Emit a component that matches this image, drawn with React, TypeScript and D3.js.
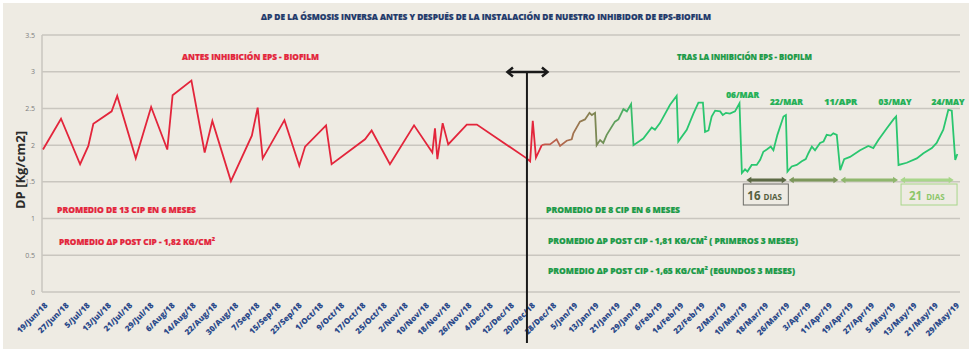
import * as d3 from 'd3';

// days counted from 19/Jun/18
const tickLabels = [
  '19/Jun/18', '27/Jun/18', '5/Jul/18', '13/Jul/18', '21/Jul/18', '29/Jul/18', '6/Aug/18', '14/Aug/18',
  '22/Aug/18', '30/Aug/18', '7/Sep/18', '15/Sep/18', '23/Sep/18', '1/Oct/18', '9/Oct/18', '17/Oct/18',
  '25/Oct/18', '2/Nov/18', '10/Nov/18', '18/Nov/18', '26/Nov/18', '4/Dec/18', '12/Dec/18', '20/Dec/18',
  '28/Dec/18', '5/Jan/19', '13/Jan/19', '21/Jan/19', '29/Jan/19', '6/Feb/19', '14/Feb/19', '22/Feb/19',
  '2/Mar/19', '10/Mar/19', '18/Mar/19', '26/Mar/19', '3/Apr/19', '11/Apr/19', '19/Apr/19', '27/Apr/19',
  '5/May/19', '13/May/19', '21/May/19', '29/May/19',
];
const tickStep = 8;
const yTicks = [0, 0.5, 1, 1.5, 2, 2.5, 3, 3.5];

// before the inhibitor (red)
const antesDays = [
  0, 6.8, 14, 17.1, 19, 25.9, 28, 35, 40.8, 46.9, 48.9, 56, 61, 63.9, 70.9, 78.8, 81, 82.9, 91.1, 96.7,
  98.9, 106.8, 108.9, 121.5, 124, 130.9, 140, 146.9, 147.9, 148.8, 150.8, 152.9, 159.9, 163.7, 182.5,
  183.8, 184.8, 186, 188.2,
];
const antesDp = [
  1.94, 2.36, 1.74, 1.99, 2.29, 2.46, 2.67, 1.82, 2.52, 1.94, 2.68, 2.88, 1.9, 2.33, 1.51, 2.13, 2.51, 1.82, 2.34, 1.72,
  1.98, 2.27, 1.74, 2.08, 2.2, 1.74, 2.27, 1.9, 2.23, 1.81, 2.3, 2.01, 2.28, 2.28, 1.82,
  1.78, 2.33, 1.83, 2.0,
];

// after the inhibitor (green)
const trasDays = [
  188.2, 189.4, 191.3, 193.8, 195.1, 197.6, 199.5, 200.1, 202.6, 204.5, 206.2, 207.1, 208.3, 208.9, 210.2,
  211.4, 212.7, 215.8, 217.1, 219, 220.3, 221.9, 222.8, 226.5, 229.7, 230.9, 232.8, 236.6, 239.1, 239.7,
  242.9, 245.4, 247.3, 249, 249.8, 251.1, 252.3, 253.6, 255.5, 256.5, 257.7, 259.2, 261.1, 262.8, 263.7,
  264.9, 265.8, 267.4, 269.3, 270.6, 271.8, 273.1, 274.6, 275.6, 277.1, 279.4, 280.3, 280.9, 282.5, 284.4,
  286.3, 287.8, 288.8, 290.1, 291.3, 293.2, 294.5, 295.7, 297.2, 298.2, 299.5, 300.8, 302.3, 304.5, 308.3,
  311.4, 313.3, 315.2, 318.4, 320.9, 321.9, 322.8, 325.9, 329.7, 332.2, 335.4, 337.2, 339.7, 341.6, 342.9,
  344.2, 345,
];
const trasDp = [
  2.0, 2.01, 2.01, 2.08, 1.99, 2.06, 2.08, 2.16, 2.32, 2.35, 2.44, 2.41, 2.44, 2.0, 2.07,
  2.03, 2.14, 2.32, 2.35, 2.49, 2.46, 2.56, 2.0, 2.09, 2.24, 2.21, 2.3, 2.55, 2.67, 2.05,
  2.21, 2.43, 2.58, 2.58, 2.18, 2.2, 2.39, 2.47, 2.46, 2.41, 2.44, 2.43, 2.46, 2.57, 1.62,
  1.67, 1.64, 1.73, 1.73, 1.8, 1.91, 1.94, 1.98, 1.93, 2.14, 2.39, 2.41, 1.64, 1.71, 1.73,
  1.78, 1.81, 1.89, 1.98, 1.93, 2.03, 2.05, 2.14, 2.13, 2.16, 2.14, 1.66, 1.81, 1.84, 1.93,
  1.99, 1.96, 2.07, 2.23, 2.35, 2.39, 1.73, 1.76, 1.82, 1.89, 1.96, 2.03, 2.21, 2.48, 2.47,
  1.8, 1.88,
];

const peakDays = [264, 280.5, 301, 321.5, 341.5];
const peakLabels = ['06/MAR', '22/MAR', '11/APR', '03/MAY', '24/MAY'];
const cipDays = [265, 281, 300.5, 323, 344];
const cipColors = ['#5d6a45', '#7c975a', '#8fb76d', '#a8d68a'];
const dividerDay = 182.6;

const W = 972;
const H = 352;
const FONT = "'Open Sans', 'DejaVu Sans', sans-serif";
const RED = '#e3253b';
const GREEN_TXT = '#1b9a47';

const x = d3.scaleLinear().domain([0, 346]).range([43, 960]);
const y = d3.scaleLinear().domain([0, 3.5]).range([292, 35]);

const line = d3.line<[number, number]>().x(d => x(d[0])).y(d => y(d[1]));
const antesPts = antesDays.map((d, i) => [d, antesDp[i]] as [number, number]);
const trasPts = trasDays.map((d, i) => [d, trasDp[i]] as [number, number]);

function Label({ x0, yb, w, size, fill, children, anchor = 'start' }: any) {
  return (
    <text x={x0} y={yb} fontSize={size} fontWeight={800} fill={fill} stroke={fill} strokeWidth={0.2}
      textAnchor={anchor} textLength={w} lengthAdjust="spacingAndGlyphs" fontFamily={FONT}>{children}</text>
  );
}

function Arrow({ x1, x2, yy, color }: any) {
  const h = 3.2;
  return (
    <g>
      <line x1={x1 + 3} x2={x2 - 3} y1={yy} y2={yy} stroke={color} strokeWidth={3} />
      <path d={`M${x1},${yy} L${x1 + 5},${yy - h} L${x1 + 5},${yy + h} Z`} fill={color} />
      <path d={`M${x2},${yy} L${x2 - 5},${yy - h} L${x2 - 5},${yy + h} Z`} fill={color} />
    </g>
  );
}

export default function App() {
  const xd = x(dividerDay);
  const arrowY = 180;
  return (
    <svg width={W} height={H} style={{ position: 'absolute', left: 0, top: 0 }}>
      <defs>
        <linearGradient id="trasGrad" gradientUnits="userSpaceOnUse" x1={x(188)} x2={x(224)} y1={0} y2={0}>
          <stop offset="0" stopColor="#c9544a" />
          <stop offset="0.3" stopColor="#a8704f" />
          <stop offset="0.55" stopColor="#7f8553" />
          <stop offset="0.8" stopColor="#5aa45e" />
          <stop offset="1" stopColor="#2ac66f" />
        </linearGradient>
      </defs>
      <rect x={0} y={0} width={W} height={H} fill="#ffffff" />
      <rect x={3} y={3} width={W - 6} height={H - 6} fill="#eeebe3" />

      {/* title */}
      <Label x0={486} yb={20} w={450} size={8.8} fill="#1f3a6b" anchor="middle">
        ΔP  DE LA ÓSMOSIS INVERSA ANTES Y DESPUÉS DE LA INSTALACIÓN DE NUESTRO INHIBIDOR DE EPS-BIOFILM
      </Label>

      {/* grid */}
      {yTicks.map(t => (
        <g key={t}>
          <line x1={x(0) - 1} x2={x(346)} y1={y(t)} y2={y(t)} stroke="#c9c6bf" strokeWidth={1.5} />
          <text x={35} y={y(t) + 2.5} fontSize={7} fill="#7d7d7d" textAnchor="end" fontFamily={FONT}>{t}</text>
        </g>
      ))}
      <line x1={x(0) - 1} x2={x(0) - 1} y1={y(3.5)} y2={y(0)} stroke="#c9c6bf" strokeWidth={1.5} />

      {/* y title */}
      <text transform={`translate(25,170) rotate(-90)`} fontSize={13} fontWeight={700} fill="#2b2b2b"
        textAnchor="middle" fontFamily={FONT}>DP [Kg/cm2]</text>

      {/* x tick labels */}
      {tickLabels.map((l, i) => (
        <text key={l} transform={`translate(${x(i * tickStep) + 5},306) rotate(-45)`} fontSize={8}
          fontWeight={800} fill="#2c4a8a" textAnchor="end" fontFamily={FONT}>{l}</text>
      ))}

      {/* series */}
      <path d={line(antesPts) || ''} fill="none" stroke={RED} strokeWidth={1.8} />
      <path d={line(trasPts) || ''} fill="none" stroke="url(#trasGrad)" strokeWidth={1.8} />

      {/* divider */}
      <line x1={xd} x2={xd} y1={72} y2={343} stroke="#1a1a1a" strokeWidth={2} />
      <line x1={xd - 19} x2={xd + 20} y1={72} y2={72} stroke="#1a1a1a" strokeWidth={2.5} />
      <polyline points={`${xd - 14},67.5 ${xd - 19.5},72 ${xd - 14},76.5`} fill="none" stroke="#1a1a1a" strokeWidth={2.5} />
      <polyline points={`${xd + 15},67.5 ${xd + 20.5},72 ${xd + 15},76.5`} fill="none" stroke="#1a1a1a" strokeWidth={2.5} />

      {/* annotations */}
      <Label x0={182} yb={60} w={137} size={8.5} fill={RED}>ANTES INHIBICIÓN EPS - BIOFILM</Label>
      <Label x0={677} yb={60} w={135} size={8.5} fill={GREEN_TXT}>TRAS LA  INHIBICIÓN EPS - BIOFILM</Label>
      <Label x0={57} yb={213} w={139} size={8.5} fill={RED}>PROMEDIO DE 13 CIP EN 6 MESES</Label>
      <Label x0={59} yb={245} w={156} size={8.5} fill={RED}>PROMEDIO ΔP POST CIP - 1,82 KG/CM²</Label>
      <Label x0={546} yb={213} w={134} size={8.5} fill={GREEN_TXT}>PROMEDIO DE 8 CIP EN 6 MESES</Label>
      <Label x0={548} yb={244} w={250} size={8.5} fill={GREEN_TXT}>PROMEDIO ΔP POST CIP - 1,81 KG/CM² ( PRIMEROS 3 MESES)</Label>
      <Label x0={548} yb={274} w={247} size={8.5} fill={GREEN_TXT}>PROMEDIO ΔP POST CIP - 1,65 KG/CM² (EGUNDOS 3 MESES)</Label>

      {peakDays.map((d, i) => (
        <Label key={i} x0={x(d)} yb={i === 0 ? 98 : 105} w={33} size={8.5} fill="#22b055" anchor="middle">
          {peakLabels[i]}
        </Label>
      ))}

      {/* CIP intervals */}
      {cipColors.map((c, i) => (
        <Arrow key={i} x1={x(cipDays[i]) + 1} x2={x(cipDays[i + 1]) - 1} yy={arrowY} color={c} />
      ))}
      <rect x={x(cipDays[0]) - 2} y={184} width={45} height={21} fill="none" stroke="#6b6b66" strokeWidth={1} />
      <text x={x(cipDays[0]) + 2} y={200} fontFamily={FONT} fontWeight={700} fill="#55603f">
        <tspan fontSize={11.5}>16</tspan><tspan fontSize={8} dx={3}>DIAS</tspan>
      </text>
      <rect x={x(cipDays[3]) + 2} y={184} width={56} height={21} fill="none" stroke="#a8d68a" strokeWidth={1} />
      <text x={x(cipDays[3]) + 10} y={200} fontFamily={FONT} fontWeight={700} fill="#8cc66a">
        <tspan fontSize={11.5}>21</tspan><tspan fontSize={8} dx={4}>DIAS</tspan>
      </text>
    </svg>
  );
}
